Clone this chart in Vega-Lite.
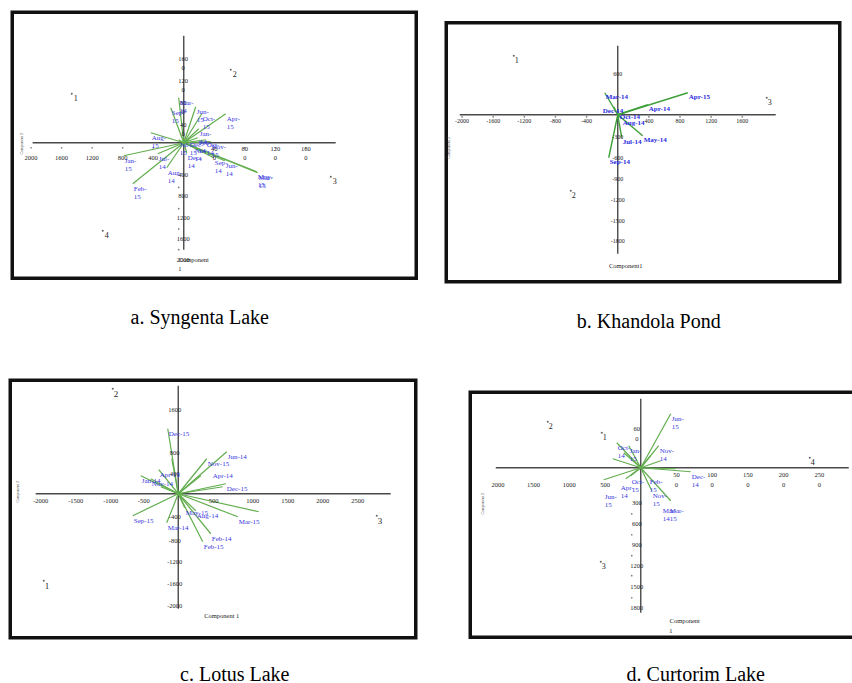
{
"$schema": "https://vega.github.io/schema/vega-lite/v6.json",
"background": "white",
"padding": {"left": 7.75, "top": 9.75, "right": 0, "bottom": 0},
"columns": 2,
"align": "each",
"bounds": "flush",
"spacing": {"row": 99, "column": 30},
"config": {
  "view": {"stroke": null},
  "title": {"font": "Liberation Serif", "fontSize": 20, "fontWeight": "normal", "color": "#000", "orient": "bottom", "anchor": "middle", "baseline": "top"},
  "text": {"font": "Liberation Serif"}
},
"datasets": {
"a": [
{"k":"frame","x":-2246.7,"x2":3045.8,"y":2453.4,"y2":-2547.4},
{"k":"axis","x":-1980,"x2":1990,"y":0,"y2":0},
{"k":"axis","x":0,"x2":0,"y":2010,"y2":-2010},
{"k":"tick","x":-2000,"y":-94},{"k":"tick","x":-1600,"y":-94},{"k":"tick","x":-1200,"y":-94},{"k":"tick","x":-800,"y":-94},{"k":"tick","x":-400,"y":-94},
{"k":"tick","x":400,"y":-94},{"k":"tick","x":800,"y":-94},{"k":"tick","x":1200,"y":-94},{"k":"tick","x":1600,"y":-94},
{"k":"tick","x":-66,"y":-840},{"k":"tick","x":-66,"y":-1240},{"k":"tick","x":-66,"y":-1620},{"k":"tick","x":-66,"y":-2010},
{"k":"tl","x":-2000,"y":-280,"t":"2000"},{"k":"tl","x":-1600,"y":-280,"t":"1600"},{"k":"tl","x":-1200,"y":-280,"t":"1200"},{"k":"tl","x":-800,"y":-280,"t":"800"},{"k":"tl","x":-400,"y":-280,"t":"400"},
{"k":"tl","x":400,"y":-113,"t":"40"},{"k":"tl","x":800,"y":-113,"t":"80"},{"k":"tl","x":1200,"y":-113,"t":"120"},{"k":"tl","x":1600,"y":-113,"t":"160"},
{"k":"tl","x":400,"y":-282,"t":"0"},{"k":"tl","x":800,"y":-282,"t":"0"},{"k":"tl","x":1200,"y":-282,"t":"0"},{"k":"tl","x":1600,"y":-282,"t":"0"},
{"k":"tl","x":-7,"y":1579,"t":"160"},{"k":"tl","x":-7,"y":1410,"t":"0"},{"k":"tl","x":-7,"y":1166,"t":"120"},{"k":"tl","x":-7,"y":996,"t":"0"},
{"k":"tl","x":-7,"y":752,"t":"80"},{"k":"tl","x":-7,"y":583,"t":"0"},{"k":"tl","x":-7,"y":338,"t":"40"},{"k":"tl","x":-7,"y":169,"t":"0"},
{"k":"tl","x":-7,"y":-602,"t":"400"},{"k":"tl","x":-7,"y":-996,"t":"800"},{"k":"tl","x":-7,"y":-1410,"t":"1200"},{"k":"tl","x":-7,"y":-1805,"t":"1600"},{"k":"tl","x":-7,"y":-2200,"t":"2000"},
{"k":"ttl","x":131,"y":-2200,"t":"Component"},{"k":"ttl","x":-52,"y":-2369,"t":"1"},
{"k":"ytl","x":-2122,"y":-19,"t":"Component 2"},
{"k":"pt","x":-1467,"y":921,"t":"1"},{"k":"pt","x":616,"y":1372,"t":"2"},{"k":"pt","x":1926,"y":-639,"t":"3"},{"k":"pt","x":-1061,"y":-1654,"t":"4"},
{"k":"vec","x":-66,"y":846,"t":"Mar-\n14"},
{"k":"vec","x":-170,"y":658,"t":"Sep-\n15"},
{"k":"vec","x":157,"y":677,"t":"Jun-\n15"},
{"k":"vec","x":236,"y":545,"t":"Oct-\n15"},
{"k":"vec","x":550,"y":545,"t":"Apr-\n15"},
{"k":"vec","x":197,"y":263,"t":"Jan-\n14"},
{"k":"vec","x":-432,"y":188,"t":"Aug-\n15"},
{"k":"vec","x":-786,"y":-244,"t":"Jan-\n15"},
{"k":"vec","x":-341,"y":-207,"t":"Jul-\n14"},
{"k":"vec","x":-223,"y":-470,"t":"Aug-\n14"},
{"k":"vec","x":-668,"y":-771,"t":"Feb-\n15"},
{"k":"vec","x":39,"y":-188,"t":"Dec-\n14"},
{"k":"vec","x":393,"y":-282,"t":"Sep-\n14"},
{"k":"vec","x":537,"y":-338,"t":"Jun-\n14"},
{"k":"vec","x":969,"y":-564,"t":"Mar-\n15"},
{"k":"vec","x":956,"y":-545,"t":"May-\n15"},
{"k":"vec","x":288,"y":56,"t":"Oct-\n14"},
{"k":"vec","x":183,"y":94,"t":"Feb-\n14"},
{"k":"vec","x":131,"y":-56,"t":"Nov-\n14"},
{"k":"vec","x":66,"y":56,"t":"Dec-\n15"},
{"k":"vec","x":-66,"y":56,"t":"Jul-\n15"},
{"k":"vec","x":354,"y":20,"t":"Nov-\n15"}
],
"b": [
{"k":"frame","x":-2203.8,"x2":2852.7,"y":1324.8,"y2":-2404.8},
{"k":"axis","x":-2030,"x2":2030,"y":0,"y2":0},
{"k":"axis","x":0,"x2":0,"y":994,"y2":-2002},
{"k":"tick","x":-2000,"y":-29},{"k":"tick","x":-1600,"y":-29},{"k":"tick","x":-1200,"y":-29},{"k":"tick","x":-800,"y":-29},{"k":"tick","x":-400,"y":-29},
{"k":"tick","x":400,"y":-29},{"k":"tick","x":800,"y":-29},{"k":"tick","x":1200,"y":-29},{"k":"tick","x":1600,"y":-29},
{"k":"tl","x":-2000,"y":-86,"t":"-2000"},{"k":"tl","x":-1600,"y":-86,"t":"-1600"},{"k":"tl","x":-1200,"y":-86,"t":"-1200"},{"k":"tl","x":-800,"y":-86,"t":"-800"},{"k":"tl","x":-400,"y":-86,"t":"-400"},
{"k":"tl","x":400,"y":-86,"t":"400"},{"k":"tl","x":800,"y":-86,"t":"800"},{"k":"tl","x":1200,"y":-86,"t":"1200"},{"k":"tl","x":1600,"y":-86,"t":"1600"},
{"k":"tl","x":0,"y":586,"t":"600"},{"k":"tl","x":0,"y":-327,"t":"-300"},{"k":"tl","x":0,"y":-624,"t":"-600"},{"k":"tl","x":0,"y":-926,"t":"-900"},
{"k":"tl","x":0,"y":-1224,"t":"-1200"},{"k":"tl","x":0,"y":-1526,"t":"-1500"},{"k":"tl","x":0,"y":-1824,"t":"-1800"},
{"k":"ttl","x":103,"y":-2174,"t":"Component1"},
{"k":"ytl","x":-2172,"y":-475,"t":"Component 2"},
{"k":"pt","x":-1336,"y":850,"t":"1"},{"k":"pt","x":-604,"y":-1094,"t":"2"},{"k":"pt","x":1915,"y":245,"t":"3"},
{"k":"vec","x":900,"y":317,"t":"Apr-15"},
{"k":"vec","x":386,"y":144,"t":"Apr-14"},
{"k":"vec","x":-167,"y":317,"t":"Mar-14"},
{"k":"vec","x":-51,"y":115,"t":""},
{"k":"vec","x":51,"y":-58,"t":"Aug-14"},
{"k":"vec","x":321,"y":-302,"t":"May-14"},
{"k":"vec","x":51,"y":-331,"t":"Jul-14"},
{"k":"vec","x":-116,"y":-619,"t":"Sep-14"},
{"k":"lab","x":-206,"y":115,"t":"Dec-14"},
{"k":"lab","x":13,"y":29,"t":"Oct-14"}
],
"c": [
{"k":"frame","x":-2385.6,"x2":3372.5,"y":2088.4,"y2":-2649.6},
{"k":"axis","x":-2024,"x2":3017,"y":0,"y2":0},
{"k":"axis","x":0,"x2":0,"y":1987,"y2":-2116},
{"k":"tl","x":-1953,"y":-129,"t":"-2000"},{"k":"tl","x":-1455,"y":-129,"t":"-1500"},{"k":"tl","x":-958,"y":-129,"t":"-1000"},{"k":"tl","x":-490,"y":-129,"t":"-500"},
{"k":"tl","x":504,"y":-129,"t":"500"},{"k":"tl","x":1058,"y":-129,"t":"1000"},{"k":"tl","x":1555,"y":-129,"t":"1500"},{"k":"tl","x":2052,"y":-129,"t":"2000"},{"k":"tl","x":2549,"y":-129,"t":"2500"},
{"k":"tl","x":-50,"y":1546,"t":"1600"},{"k":"tl","x":-50,"y":754,"t":"800"},{"k":"tl","x":-50,"y":368,"t":"400"},{"k":"tl","x":-50,"y":-423,"t":"-400"},
{"k":"tl","x":-50,"y":-865,"t":"-800"},{"k":"tl","x":-50,"y":-1251,"t":"-1200"},{"k":"tl","x":-50,"y":-1656,"t":"-1600"},{"k":"tl","x":-50,"y":-2061,"t":"-2000"},
{"k":"ttl","x":618,"y":-2245,"t":"Component 1"},
{"k":"ytl","x":-2272,"y":37,"t":"Component 2"},
{"k":"pt","x":-930,"y":1932,"t":"2"},{"k":"pt","x":-1910,"y":-1601,"t":"1"},{"k":"pt","x":2819,"y":-405,"t":"3"},
{"k":"vec","x":-149,"y":1196,"t":"Dec-15"},
{"k":"vec","x":-92,"y":644,"t":""},
{"k":"vec","x":689,"y":773,"t":"Jun-14"},
{"k":"vec","x":405,"y":644,"t":"Nov-15"},
{"k":"vec","x":320,"y":331,"t":""},
{"k":"vec","x":675,"y":184,"t":"Dec-15"},
{"k":"vec","x":632,"y":129,"t":""},
{"k":"vec","x":-277,"y":442,"t":"Apr-15"},
{"k":"vec","x":-533,"y":331,"t":"Jan-14"},
{"k":"vec","x":-391,"y":276,"t":"Nov-14"},
{"k":"vec","x":-249,"y":129,"t":""},
{"k":"vec","x":-646,"y":-405,"t":"Sep-15"},
{"k":"vec","x":-163,"y":-534,"t":"Mar-14"},
{"k":"vec","x":92,"y":-258,"t":"May-15"},
{"k":"vec","x":249,"y":-313,"t":"Aug-14"},
{"k":"vec","x":462,"y":-736,"t":"Feb-14"},
{"k":"vec","x":348,"y":-883,"t":"Feb-15"},
{"k":"vec","x":845,"y":-423,"t":"Mar-15"},
{"k":"vec","x":1143,"y":-331,"t":""},
{"k":"lab","x":476,"y":423,"t":"Apr-14"}
],
"d": [
{"k":"frame","x":-2387,"x2":3010,"y":1079.7,"y2":-2423.9},
{"k":"axis","x":-2030,"x2":2912,"y":0,"y2":0},
{"k":"axis","x":0,"x2":0,"y":987,"y2":-2074},
{"k":"tick","x":-126,"y":-658},{"k":"tick","x":-126,"y":-958},{"k":"tick","x":-126,"y":-1258},{"k":"tick","x":-126,"y":-1544},{"k":"tick","x":-126,"y":-1859},
{"k":"tl","x":-2000,"y":-243,"t":"2000"},{"k":"tl","x":-1500,"y":-243,"t":"1500"},{"k":"tl","x":-1000,"y":-243,"t":"1000"},{"k":"tl","x":-500,"y":-243,"t":"500"},
{"k":"tl","x":500,"y":-100,"t":"50"},{"k":"tl","x":1000,"y":-100,"t":"100"},{"k":"tl","x":1500,"y":-100,"t":"150"},{"k":"tl","x":2000,"y":-100,"t":"200"},{"k":"tl","x":2500,"y":-100,"t":"250"},
{"k":"tl","x":500,"y":-243,"t":"0"},{"k":"tl","x":1000,"y":-243,"t":"0"},{"k":"tl","x":1500,"y":-243,"t":"0"},{"k":"tl","x":2000,"y":-243,"t":"0"},{"k":"tl","x":2500,"y":-243,"t":"0"},
{"k":"tl","x":-56,"y":558,"t":"60"},{"k":"tl","x":-56,"y":415,"t":"0"},{"k":"tl","x":-56,"y":-501,"t":"300"},{"k":"tl","x":-56,"y":-801,"t":"600"},
{"k":"tl","x":-56,"y":-1101,"t":"900"},{"k":"tl","x":-56,"y":-1401,"t":"1200"},{"k":"tl","x":-56,"y":-1702,"t":"1500"},{"k":"tl","x":-56,"y":-2002,"t":"1800"},
{"k":"ttl","x":616,"y":-2188,"t":"Component"},{"k":"ttl","x":420,"y":-2331,"t":"1"},
{"k":"ytl","x":-2212,"y":-515,"t":"Component 2"},
{"k":"pt","x":-1302,"y":658,"t":"2"},{"k":"pt","x":-546,"y":500,"t":"1"},{"k":"pt","x":2366,"y":143,"t":"4"},{"k":"pt","x":-560,"y":-1344,"t":"3"},
{"k":"vec","x":420,"y":772,"t":"Jun-\n15"},
{"k":"vec","x":252,"y":315,"t":"Nov-\n14"},
{"k":"vec","x":700,"y":-57,"t":"Dec-\n14"},
{"k":"vec","x":-336,"y":358,"t":"Oct-\n14"},
{"k":"vec","x":-168,"y":315,"t":"Jan-\n15"},
{"k":"vec","x":-518,"y":-172,"t":""},
{"k":"vec","x":-210,"y":-157,"t":""},
{"k":"vec","x":420,"y":-472,"t":""},
{"k":"vec","x":154,"y":-329,"t":"Nov-\n15"},
{"k":"vec","x":280,"y":100,"t":""},
{"k":"vec","x":140,"y":172,"t":""},
{"k":"vec","x":-140,"y":-114,"t":""},
{"k":"vec","x":-392,"y":129,"t":""},
{"k":"vec","x":-238,"y":215,"t":""},
{"k":"vec","x":490,"y":-14,"t":""},
{"k":"lab","x":-518,"y":-343,"t":"Jun-\n15"},
{"k":"lab","x":-294,"y":-215,"t":"Apr-\n14"},
{"k":"lab","x":294,"y":-543,"t":"Mar-\n14"},
{"k":"lab","x":392,"y":-543,"t":"Mar-\n15"},
{"k":"lab","x":-140,"y":-129,"t":"Oct-\n15"},
{"k":"lab","x":112,"y":-129,"t":"Feb-\n15"}
]
},
"concat": [
{
 "width": 406, "height": 270,
 "title": {"text": "a. Syngenta Lake", "offset": 26, "dx": -14},
 "data": {"name": "a"},
 "encoding": {
  "x": {"field": "x", "type": "quantitative", "scale": {"domain": [-2266.3, 3052.3], "nice": false, "zero": false}, "axis": null},
  "y": {"field": "y", "type": "quantitative", "scale": {"domain": [-2613.2, 2462.8], "nice": false, "zero": false}, "axis": null}
 },
 "layer": [
  {"transform": [{"filter": "datum.k==='frame'"}], "mark": {"type": "rect", "fillOpacity": 0, "stroke": "#111", "strokeWidth": 3.5}, "encoding": {"x2": {"field": "x2"}, "y2": {"field": "y2"}}},
  {"transform": [{"filter": "datum.k==='axis'"}], "mark": {"type": "rule", "color": "#4a4a4a", "strokeWidth": 1.4}, "encoding": {"x2": {"field": "x2"}, "y2": {"field": "y2"}}},
  {"transform": [{"filter": "datum.k==='vec'"}], "mark": {"type": "rule", "color": "#62ad4e", "strokeWidth": 1.2}, "encoding": {"x2": {"datum": 0}, "y2": {"datum": 0}}},
  {"transform": [{"filter": "datum.k==='tick'"}], "mark": {"type": "point", "filled": true, "color": "#444", "size": 3}, "encoding": {}},
  {"transform": [{"filter": "datum.k==='tl'"}], "mark": {"type": "text", "fontSize": 6.5, "color": "#222", "align": "center", "baseline": "middle"}, "encoding": {"text": {"field": "t"}}},
  {"transform": [{"filter": "datum.k==='vec' || datum.k==='lab'"}], "mark": {"type": "text", "fontSize": 7, "color": "#3535e0", "align": "left", "baseline": "top", "dx": 1, "dy": 1, "lineBreak": "\n", "lineHeight": 8.5}, "encoding": {"text": {"field": "t"}}},
  {"transform": [{"filter": "datum.k==='pt'"}], "mark": {"type": "point", "filled": true, "color": "#222", "size": 4}, "encoding": {}},
  {"transform": [{"filter": "datum.k==='pt'"}], "mark": {"type": "text", "fontSize": 8, "color": "#222", "align": "left", "baseline": "top", "dx": 2, "dy": 1}, "encoding": {"text": {"field": "t"}}},
  {"transform": [{"filter": "datum.k==='ttl'"}], "mark": {"type": "text", "fontSize": 6.5, "color": "#222", "align": "center", "baseline": "middle"}, "encoding": {"text": {"field": "t"}}},
  {"transform": [{"filter": "datum.k==='ytl'"}], "mark": {"type": "text", "fontSize": 4, "color": "#444", "angle": 270, "align": "center", "baseline": "middle"}, "encoding": {"text": {"field": "t"}}}
 ]
},
{
 "width": 410, "height": 270,
 "title": {"text": "b. Khandola Pond", "offset": 28, "dx": -3},
 "data": {"name": "b"},
 "encoding": {
  "x": {"field": "x", "type": "quantitative", "scale": {"domain": [-2197.35, 3071.15], "nice": false, "zero": false}, "axis": null},
  "y": {"field": "y", "type": "quantitative", "scale": {"domain": [-2404.8, 1483.2], "nice": false, "zero": false}, "axis": null}
 },
 "layer": [
  {"transform": [{"filter": "datum.k==='frame'"}], "mark": {"type": "rect", "fillOpacity": 0, "stroke": "#111", "strokeWidth": 3.5}, "encoding": {"x2": {"field": "x2"}, "y2": {"field": "y2"}}},
  {"transform": [{"filter": "datum.k==='axis'"}], "mark": {"type": "rule", "color": "#4a4a4a", "strokeWidth": 1.4}, "encoding": {"x2": {"field": "x2"}, "y2": {"field": "y2"}}},
  {"transform": [{"filter": "datum.k==='vec'"}], "mark": {"type": "rule", "color": "#3fa03a", "strokeWidth": 1.4}, "encoding": {"x2": {"datum": 0}, "y2": {"datum": 0}}},
  {"transform": [{"filter": "datum.k==='tick'"}], "mark": {"type": "point", "filled": true, "color": "#444", "size": 3}, "encoding": {}},
  {"transform": [{"filter": "datum.k==='tl'"}], "mark": {"type": "text", "fontSize": 6, "color": "#222", "align": "center", "baseline": "middle"}, "encoding": {"text": {"field": "t"}}},
  {"transform": [{"filter": "datum.k==='vec' || datum.k==='lab'"}], "mark": {"type": "text", "fontSize": 7, "color": "#2a2ae0", "fontWeight": "bold", "align": "left", "baseline": "top", "dx": 1, "dy": 0, "lineBreak": "\n", "lineHeight": 8.5}, "encoding": {"text": {"field": "t"}}},
  {"transform": [{"filter": "datum.k==='pt'"}], "mark": {"type": "point", "filled": true, "color": "#222", "size": 4}, "encoding": {}},
  {"transform": [{"filter": "datum.k==='pt'"}], "mark": {"type": "text", "fontSize": 8, "color": "#222", "align": "left", "baseline": "top", "dx": 1, "dy": 1}, "encoding": {"text": {"field": "t"}}},
  {"transform": [{"filter": "datum.k==='ttl'"}], "mark": {"type": "text", "fontSize": 6.5, "color": "#222", "align": "center", "baseline": "middle"}, "encoding": {"text": {"field": "t"}}},
  {"transform": [{"filter": "datum.k==='ytl'"}], "mark": {"type": "text", "fontSize": 4, "color": "#444", "angle": 270, "align": "center", "baseline": "middle"}, "encoding": {"text": {"field": "t"}}}
 ]
},
{
 "width": 406, "height": 257,
 "title": {"text": "c.  Lotus Lake", "offset": 25, "dx": 21},
 "data": {"name": "c"},
 "encoding": {
  "x": {"field": "x", "type": "quantitative", "scale": {"domain": [-2378.5, 3386.7], "nice": false, "zero": false}, "axis": null},
  "y": {"field": "y", "type": "quantitative", "scale": {"domain": [-2649.6, 2079.2], "nice": false, "zero": false}, "axis": null}
 },
 "layer": [
  {"transform": [{"filter": "datum.k==='frame'"}], "mark": {"type": "rect", "fillOpacity": 0, "stroke": "#111", "strokeWidth": 3.5}, "encoding": {"x2": {"field": "x2"}, "y2": {"field": "y2"}}},
  {"transform": [{"filter": "datum.k==='axis'"}], "mark": {"type": "rule", "color": "#4a4a4a", "strokeWidth": 1.4}, "encoding": {"x2": {"field": "x2"}, "y2": {"field": "y2"}}},
  {"transform": [{"filter": "datum.k==='vec'"}], "mark": {"type": "rule", "color": "#62ad4e", "strokeWidth": 1.2}, "encoding": {"x2": {"datum": 0}, "y2": {"datum": 0}}},
  {"transform": [{"filter": "datum.k==='tl'"}], "mark": {"type": "text", "fontSize": 6.5, "color": "#222", "align": "center", "baseline": "middle"}, "encoding": {"text": {"field": "t"}}},
  {"transform": [{"filter": "datum.k==='vec' || datum.k==='lab'"}], "mark": {"type": "text", "fontSize": 7, "color": "#3535e0", "align": "left", "baseline": "top", "dx": 1, "dy": 1, "lineBreak": "\n", "lineHeight": 8.5}, "encoding": {"text": {"field": "t"}}},
  {"transform": [{"filter": "datum.k==='pt'"}], "mark": {"type": "point", "filled": true, "color": "#222", "size": 4}, "encoding": {}},
  {"transform": [{"filter": "datum.k==='pt'"}], "mark": {"type": "text", "fontSize": 9, "color": "#222", "align": "left", "baseline": "top", "dx": 1, "dy": 1}, "encoding": {"text": {"field": "t"}}},
  {"transform": [{"filter": "datum.k==='ttl'"}], "mark": {"type": "text", "fontSize": 6.5, "color": "#222", "align": "center", "baseline": "middle"}, "encoding": {"text": {"field": "t"}}},
  {"transform": [{"filter": "datum.k==='ytl'"}], "mark": {"type": "text", "fontSize": 4, "color": "#444", "angle": 270, "align": "center", "baseline": "middle"}, "encoding": {"text": {"field": "t"}}}
 ]
},
{
 "width": 410, "height": 257,
 "title": {"text": "d. Curtorim Lake", "offset": 26, "dx": 44},
 "data": {"name": "d"},
 "encoding": {
  "x": {"field": "x", "type": "quantitative", "scale": {"domain": [-2716, 3024], "nice": false, "zero": false}, "axis": null},
  "y": {"field": "y", "type": "quantitative", "scale": {"domain": [-2431, 1244.1], "nice": false, "zero": false}, "axis": null}
 },
 "layer": [
  {"transform": [{"filter": "datum.k==='frame'"}], "mark": {"type": "rect", "fillOpacity": 0, "stroke": "#111", "strokeWidth": 3.5}, "encoding": {"x2": {"field": "x2"}, "y2": {"field": "y2"}}},
  {"transform": [{"filter": "datum.k==='axis'"}], "mark": {"type": "rule", "color": "#4a4a4a", "strokeWidth": 1.4}, "encoding": {"x2": {"field": "x2"}, "y2": {"field": "y2"}}},
  {"transform": [{"filter": "datum.k==='vec'"}], "mark": {"type": "rule", "color": "#62ad4e", "strokeWidth": 1.2}, "encoding": {"x2": {"datum": 0}, "y2": {"datum": 0}}},
  {"transform": [{"filter": "datum.k==='tick'"}], "mark": {"type": "point", "filled": true, "color": "#444", "size": 3}, "encoding": {}},
  {"transform": [{"filter": "datum.k==='tl'"}], "mark": {"type": "text", "fontSize": 6.5, "color": "#222", "align": "center", "baseline": "middle"}, "encoding": {"text": {"field": "t"}}},
  {"transform": [{"filter": "datum.k==='vec' || datum.k==='lab'"}], "mark": {"type": "text", "fontSize": 7, "color": "#3535e0", "align": "left", "baseline": "top", "dx": 1, "dy": 1, "lineBreak": "\n", "lineHeight": 8.5}, "encoding": {"text": {"field": "t"}}},
  {"transform": [{"filter": "datum.k==='pt'"}], "mark": {"type": "point", "filled": true, "color": "#222", "size": 4}, "encoding": {}},
  {"transform": [{"filter": "datum.k==='pt'"}], "mark": {"type": "text", "fontSize": 8, "color": "#222", "align": "left", "baseline": "top", "dx": 1, "dy": 1}, "encoding": {"text": {"field": "t"}}},
  {"transform": [{"filter": "datum.k==='ttl'"}], "mark": {"type": "text", "fontSize": 6.5, "color": "#222", "align": "center", "baseline": "middle"}, "encoding": {"text": {"field": "t"}}},
  {"transform": [{"filter": "datum.k==='ytl'"}], "mark": {"type": "text", "fontSize": 4, "color": "#444", "angle": 270, "align": "center", "baseline": "middle"}, "encoding": {"text": {"field": "t"}}}
 ]
}
]
}
